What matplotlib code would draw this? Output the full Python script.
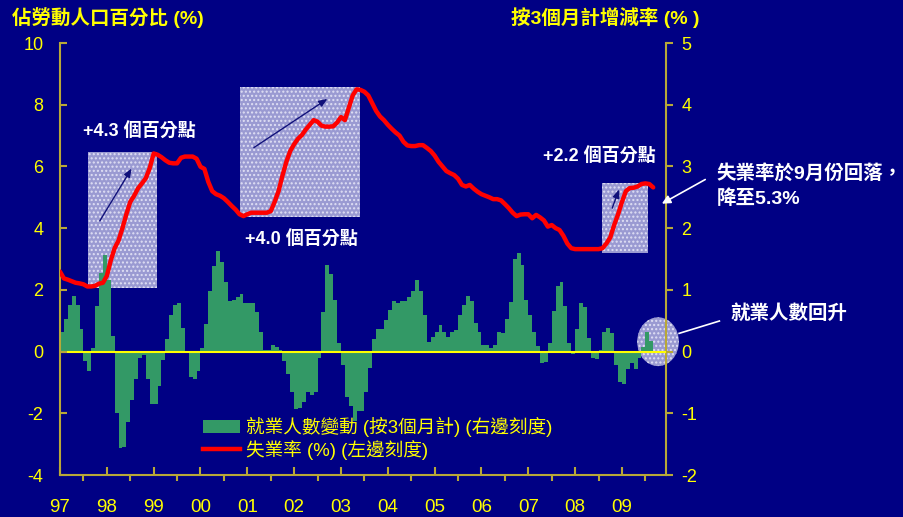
import matplotlib.pyplot as plt
import matplotlib.patches as mpatches
from matplotlib.lines import Line2D
import numpy as np

plt.rcParams['font.family'] = ['Liberation Sans', 'Noto Sans CJK TC', 'DejaVu Sans']
plt.rcParams['axes.unicode_minus'] = False

# unemployment rate, 3-month moving average, Jan 1997 - Sep 2009 (left scale, %)
unemp = [
    2.59, 2.37, 2.33, 2.28, 2.23, 2.21, 2.18, 2.11, 2.11, 2.13, 2.20, 2.23,   # 1997
    2.45, 2.95, 3.35, 3.60, 4.00, 4.45, 4.85, 5.05, 5.29, 5.45, 5.62, 5.95,   # 1998
    6.42, 6.38, 6.30, 6.20, 6.12, 6.10, 6.10, 6.28, 6.32, 6.32, 6.32, 6.25,   # 1999
    5.99, 5.92, 5.50, 5.20, 5.10, 5.05, 4.97, 4.85, 4.72, 4.60, 4.45, 4.39,   # 2000
    4.45, 4.50, 4.50, 4.50, 4.50, 4.50, 4.55, 4.85, 5.20, 5.70, 6.15, 6.50,   # 2001
    6.72, 6.90, 7.02, 7.20, 7.35, 7.50, 7.45, 7.32, 7.29, 7.29, 7.30, 7.42,   # 2002
    7.60, 7.50, 7.90, 8.30, 8.50, 8.48, 8.42, 8.30, 8.05, 7.80, 7.62, 7.50,   # 2003
    7.35, 7.22, 7.10, 7.00, 6.80, 6.68, 6.66, 6.66, 6.69, 6.69, 6.60, 6.50,   # 2004
    6.35, 6.15, 6.00, 5.85, 5.78, 5.72, 5.60, 5.40, 5.35, 5.40, 5.28, 5.18,   # 2005
    5.10, 5.05, 5.00, 4.94, 4.94, 4.90, 4.78, 4.65, 4.50, 4.39, 4.44, 4.45,   # 2006
    4.45, 4.32, 4.43, 4.35, 4.25, 4.05, 4.10, 4.00, 3.94, 3.75, 3.50, 3.35,   # 2007
    3.32, 3.32, 3.32, 3.32, 3.32, 3.32, 3.32, 3.35, 3.50, 3.70, 4.10, 4.45,   # 2008
    4.85, 5.20, 5.30, 5.31, 5.35, 5.43, 5.45, 5.43, 5.32,                     # 2009
]

# employment change over 3 months (right scale, %)
emp_chg = [
    0.31, 0.53, 0.76, 0.90, 0.76, 0.37, -0.15, -0.32, 0.05, 0.74, 1.27, 1.57,      # 1997
    1.16, 0.26, -1.00, -1.57, -1.55, -1.14, -0.79, -0.44, -0.10, -0.05, -0.44, -0.85,  # 1998
    -0.85, -0.55, -0.14, 0.20, 0.59, 0.76, 0.78, 0.38, 0.01, -0.41, -0.44, -0.32,  # 1999
    0.05, 0.45, 0.98, 1.39, 1.63, 1.45, 1.12, 0.82, 0.84, 0.89, 0.93, 0.78,        # 2000
    0.78, 0.78, 0.64, 0.31, 0.03, 0.03, 0.11, 0.08, 0.03, -0.15, -0.36, -0.66,     # 2001
    -0.93, -0.91, -0.81, -0.66, -0.70, -0.65, -0.10, 0.64, 1.41, 1.25, 0.84, 0.14, # 2002
    -0.21, -0.73, -0.88, -1.12, -0.97, -0.97, -0.65, -0.26, 0.20, 0.37, 0.37, 0.51,  # 2003
    0.68, 0.82, 0.79, 0.82, 0.82, 0.88, 0.98, 1.16, 0.98, 0.59, 0.15, 0.24,        # 2004
    0.32, 0.43, 0.32, 0.23, 0.32, 0.35, 0.59, 0.76, 0.90, 0.82, 0.47, 0.31,        # 2005
    0.11, 0.11, 0.06, 0.11, 0.31, 0.30, 0.53, 0.80, 1.50, 1.59, 1.41, 0.84,        # 2006
    0.59, 0.31, 0.09, -0.19, -0.17, 0.14, 0.65, 1.07, 1.12, 0.74, 0.14, -0.04,     # 2007
    0.37, 0.78, 0.73, 0.22, -0.11, -0.12, 0.03, 0.31, 0.38, 0.30, -0.21, -0.50,    # 2008
    -0.53, -0.28, -0.19, -0.29, -0.10, 0.08, 0.31, 0.17,                           # 2009
]

years = list(range(1997, 2010))
year_labels = ['97', '98', '99', '00', '01', '02', '03', '04', '05', '06', '07', '08', '09']

t_line = 1997 + np.arange(len(unemp)) / 12
t_bar = 1997 + np.arange(len(emp_chg)) / 12

navy = '#000084'
yellow = '#ffff00'
spine_c = '#b8a838'
green = '#339966'

fig = plt.figure(figsize=(9.04, 5.17), dpi=100, facecolor=navy)
ax2 = fig.add_axes([60 / 904, 42 / 517, 606 / 904, 432 / 517])
ax = ax2.twinx()
ax2.yaxis.tick_right()
ax.yaxis.tick_left()
ax.xaxis.set_visible(True)
ax.set_zorder(ax2.get_zorder() + 1)
ax.patch.set_visible(False)
ax2.set_facecolor(navy)

# shaded boxes and circle (drawn under bars, in left-axis units)
box_fc = '#9a9ad2'
for (x0, y0, w, h) in [(1997.60, 2.06, 1.47, 4.41),
                       (2000.84, 4.37, 2.57, 4.19),
                       (2008.58, 3.20, 0.97, 2.27)]:
    ax2.add_patch(mpatches.Rectangle((x0, y0), w, h, transform=ax.transData,
                                     facecolor=box_fc, edgecolor='#e0e0f4',
                                     hatch='....', lw=0, zorder=1))
ax2.add_patch(mpatches.Ellipse((2009.77, 0.32), 0.89, 1.58, transform=ax.transData,
                               facecolor=box_fc, edgecolor='#e0e0f4', hatch='....',
                               lw=0, zorder=1, clip_on=False))

ax2.bar(t_bar, emp_chg, width=1 / 12, align='edge', color=green, lw=0, zorder=2)
ax2.axhline(0, color=yellow, lw=1.5, zorder=3)

ax.plot(t_line, unemp, color='#ff0000', lw=3.2, solid_capstyle='round', zorder=5)

ax.set_xlim(1997, 2009.94)
ax.set_ylim(-4, 10)
ax2.set_ylim(-2, 5)
ax.set_yticks(range(-4, 11, 2))
ax2.set_yticks(range(-2, 6))
ax.set_xticks(years)
ax.set_xticklabels(year_labels)
ax.set_xticks(np.arange(1997.5, 2010, 1), minor=True)

for a in (ax, ax2):
    for s in a.spines.values():
        s.set_color(spine_c)
        s.set_linewidth(1.5)
    a.spines['top'].set_visible(False)
ax.spines['right'].set_visible(False)
ax2.spines['left'].set_visible(False)
ax2.spines['bottom'].set_visible(False)

ax.tick_params(axis='y', direction='in', length=5, width=1.5, color=spine_c,
               labelcolor=yellow, labelsize=13, pad=12)
ax2.tick_params(axis='y', direction='out', length=5, width=1.5, color=spine_c,
                labelcolor=yellow, labelsize=13, pad=6)
ax.tick_params(axis='x', which='major', direction='in', length=6, width=1.5,
               color=spine_c, labelcolor=yellow, labelsize=13.5, pad=17,
               bottom=True, labelbottom=True, top=False, labeltop=False)
ax.tick_params(axis='x', which='minor', direction='out', length=4, width=1.5,
               color=spine_c, bottom=True, top=False)
ax2.tick_params(axis='x', which='both', bottom=False, labelbottom=False)

# axis titles
fig.text(12 / 904, 1 - 18 / 517, '佔勞動人口百分比 (%)', color=yellow, fontsize=14,
         fontweight='bold', va='center', ha='left')
fig.text(511 / 904, 1 - 18 / 517, '按3個月計增減率 (% )', color=yellow, fontsize=14,
         fontweight='bold', va='center', ha='left')

# arrows inside boxes
akw = dict(arrowstyle='-|>,head_length=0.5,head_width=0.2', color='#10107a', lw=1)
ax.annotate('', xy=(1998.56, 6.01), xytext=(1997.82, 4.16), arrowprops=akw, zorder=6)
ax.annotate('', xy=(2002.76, 8.24), xytext=(2001.09, 6.56), arrowprops=akw, zorder=6)
ax.annotate('', xy=(2008.96, 5.34), xytext=(2008.77, 4.56), arrowprops=akw, zorder=6)

tkw = dict(color='white', fontsize=13, fontweight='bold', va='center', ha='left', zorder=7)
ax.text(1997.50, 7.13, '+4.3 個百分點', **tkw)
ax.text(2000.95, 3.62, '+4.0 個百分點', **tkw)
ax.text(2007.32, 6.32, '+2.2 個百分點', **tkw)

ckw = dict(color='white', fontsize=14, fontweight='bold', va='center', ha='left',
           clip_on=False)
ax.text(2011.02, 5.78, '失業率於9月份回落，', **ckw)
ax.text(2011.02, 4.97, '降至5.3%', **ckw)
ax.annotate('', xy=(2009.80, 4.75), xytext=(2010.83, 5.62), annotation_clip=False,
            arrowprops=dict(arrowstyle='-|>,head_length=0.5,head_width=0.25',
                            color='white', lw=1.2))
ax.text(2011.31, 1.25, '就業人數回升', **ckw)
ax.add_line(Line2D([2010.22, 2011.08], [0.59, 0.99], color='white', lw=1.2,
                   clip_on=False))

handles = [mpatches.Patch(facecolor=green, lw=0),
           Line2D([], [], color='#ff0000', lw=3.2)]
labels = ['就業人數變動 (按3個月計) (右邊刻度)', '失業率 (%) (左邊刻度)']
leg = ax.legend(handles, labels, loc='upper left', bbox_to_anchor=(0.236, 0.135),
                frameon=False, borderpad=0, borderaxespad=0, handlelength=2.0,
                handletextpad=0.3, labelspacing=0.15, prop={'size': 13.4})
for txt in leg.get_texts():
    txt.set_color(yellow)

fig.savefig('out.png', dpi=100, facecolor=navy)
